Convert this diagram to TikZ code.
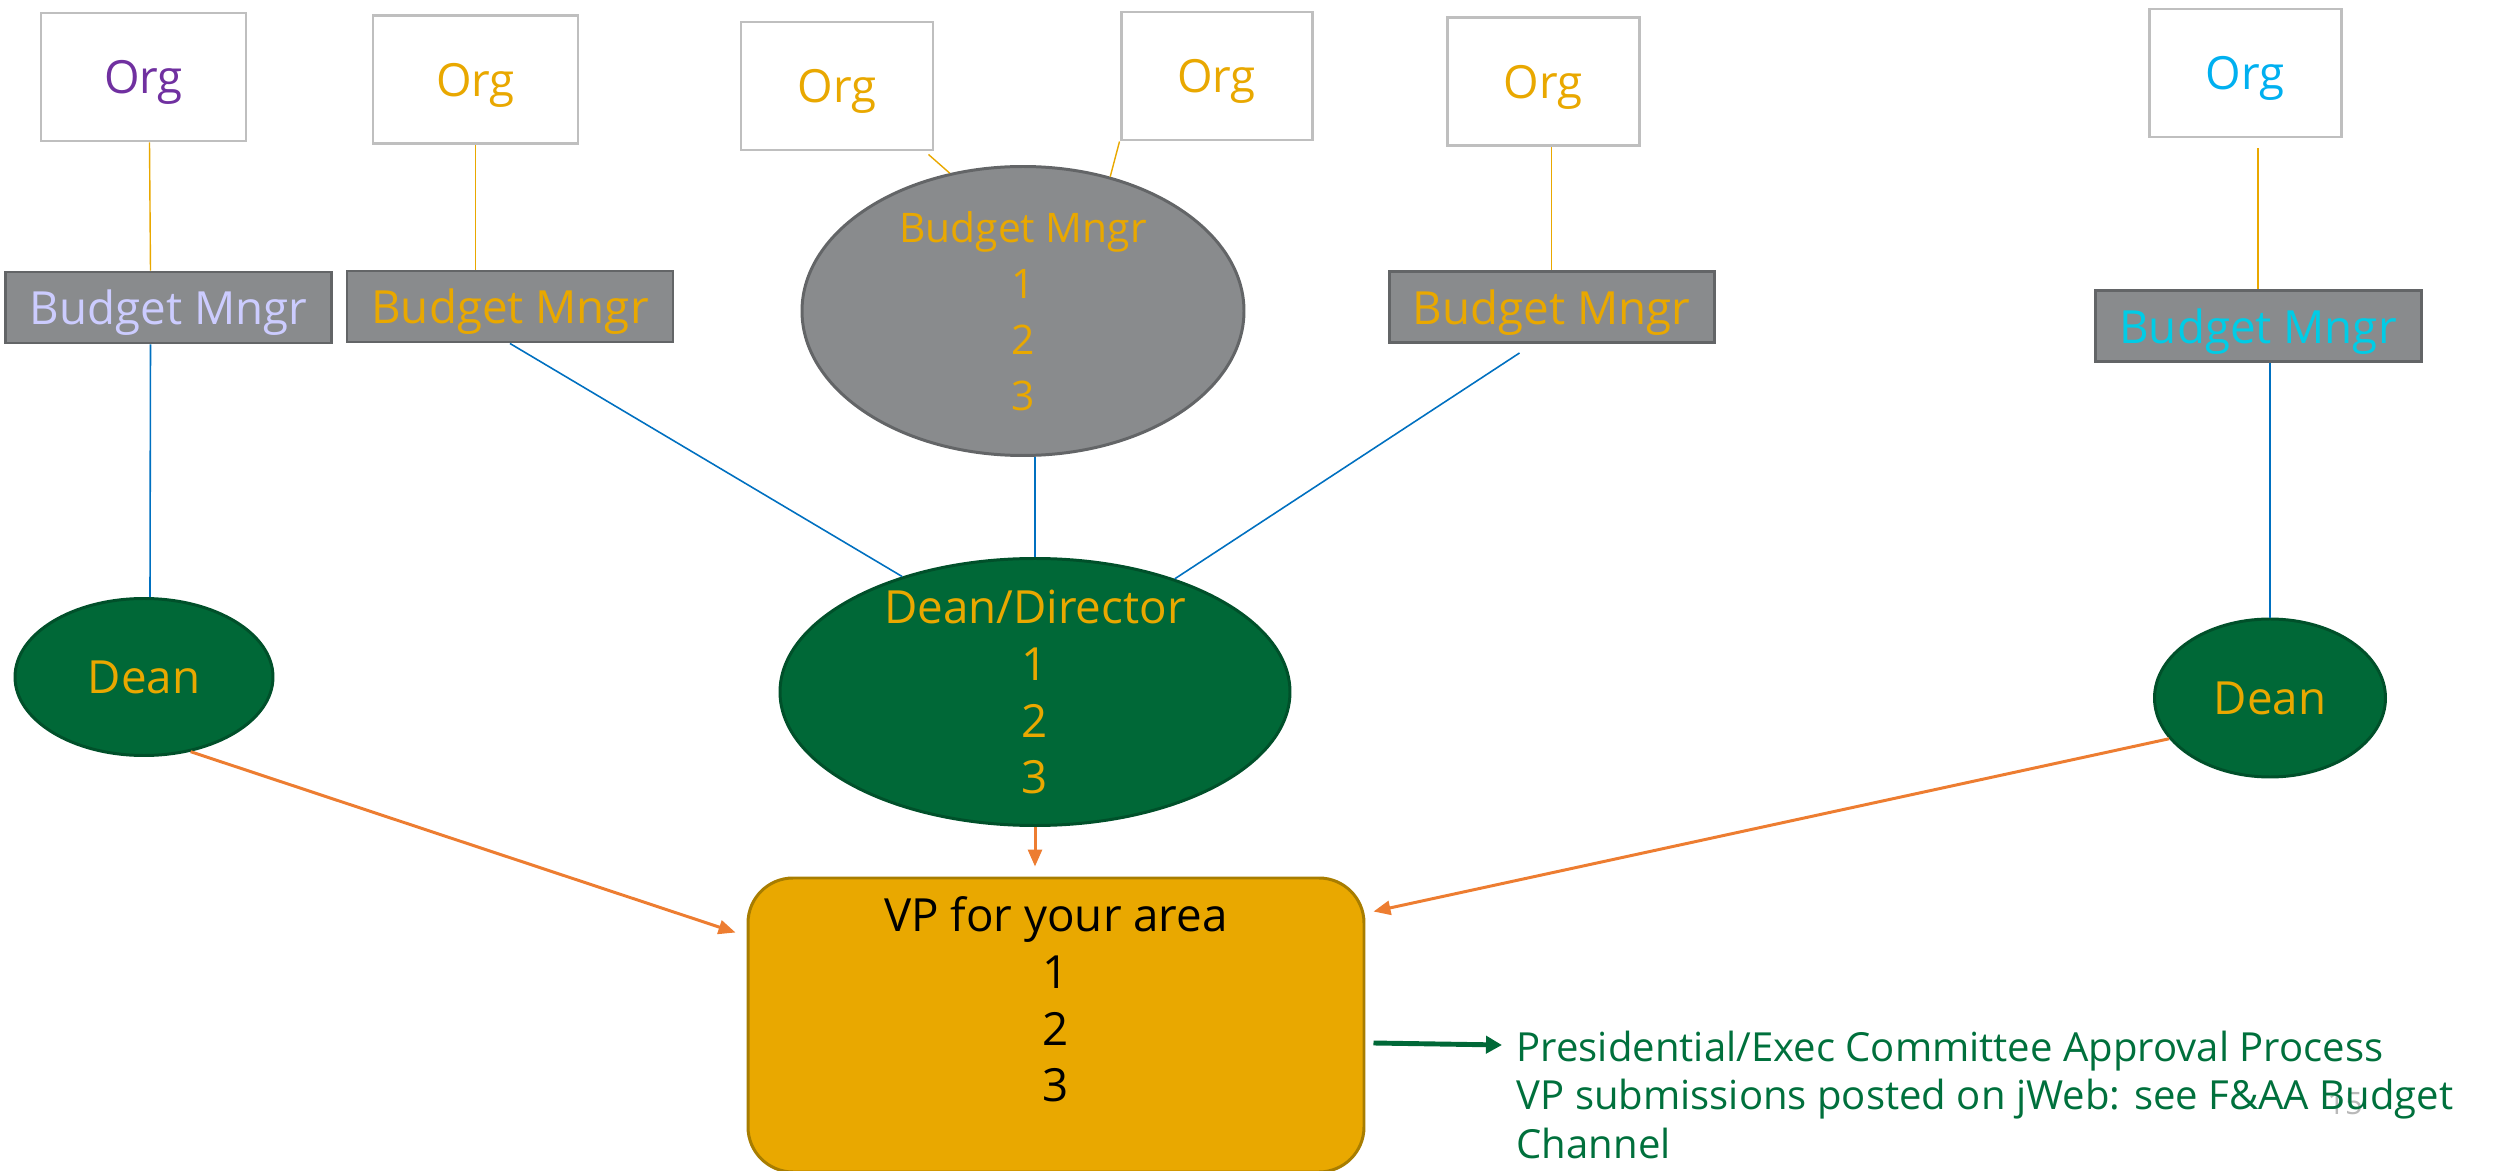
\documentclass[tikz,border=0pt]{standalone}
\usepackage{fontspec}
\setmainfont{Open Sans}
\usetikzlibrary{shapes.geometric,arrows.meta,calc}

\definecolor{orgline}{RGB}{191,191,191}
\definecolor{gold}{RGB}{233,168,0}
\definecolor{golddark}{RGB}{168,125,0}
\definecolor{mgrgray}{RGB}{137,139,141}
\definecolor{mgrdark}{RGB}{99,101,103}
\definecolor{deangreen}{RGB}{0,104,55}
\definecolor{deandark}{RGB}{0,80,42}
\definecolor{linkblue}{RGB}{0,112,192}
\definecolor{arroworange}{RGB}{237,125,49}
\definecolor{orgpurple}{RGB}{112,48,160}
\definecolor{lavender}{RGB}{204,204,255}
\definecolor{orgcyan}{RGB}{0,176,240}
\definecolor{mgrcyan}{RGB}{0,204,230}
\definecolor{notegreen}{RGB}{0,112,60}

\begin{document}
\begin{tikzpicture}[
  x = 0.1mm, y = -0.1mm,
  big font/.style = {font = \fontsize{13}{16.2}\selectfont},
  org box/.style = {draw = orgline, line width = 0.85pt, fill = white, minimum height = 12.8mm,
                    inner sep = 0pt, text depth = 0pt, big font, text = gold},
  mngr box/.style = {draw = mgrdark, line width = 0.85pt, fill = mgrgray, minimum width = 32.6mm,
                     minimum height = 7.1mm, inner sep = 0pt, text depth = 0pt, big font, text = gold},
  mngr ellipse/.style = {ellipse, draw = mgrdark, line width = 0.85pt, fill = mgrgray,
                         minimum width = 44.2mm, minimum height = 28.9mm, inner sep = 0pt},
  dean/.style = {ellipse, draw = deandark, line width = 0.85pt, fill = deangreen, inner sep = 0pt,
                 big font, text = gold},
  inner text/.style = {align = center, inner sep = 0pt, big font, text = gold},
  vp box/.style = {draw = golddark, line width = 0.85pt, fill = gold, rounded corners = 4.5mm,
                   minimum width = 61.6mm, minimum height = 29.4mm, inner sep = 0pt},
  note/.style = {align = left, inner sep = 0pt, text = notegreen, font = \fontsize{11.4}{13.8}\selectfont},
  org link/.style = {draw = gold, line width = 0.4pt},
  mngr link/.style = {draw = linkblue, line width = 0.45pt},
  to vp/.style = {draw = arroworange, line width = 0.85pt, -{Triangle[length = 1.7mm, width = 1.4mm]}},
  to note/.style = {draw = deangreen, line width = 1.4pt, -{Triangle[length = 1.6mm, width = 1.7mm]}},
  ]
  \useasboundingbox (0,0) rectangle (2496,1171);

  \node[org box, minimum width = 20.5mm, text = orgpurple] (org1) at (143.5,77) {Org};
  \node[org box, minimum width = 20.5mm] (org2) at (475.5,79.5) {Org};
  \node[org box, minimum width = 19.2mm] (org3) at (837,86) {Org};
  \node[org box, minimum width = 19.1mm] (org4) at (1216.5,76) {Org};
  \node[org box, minimum width = 19.2mm] (org5) at (1543,81.5) {Org};
  \node[org box, minimum width = 19.2mm, text = orgcyan] (org6) at (2245,73) {Org};

  \node[mngr box, text = lavender] (bm1) at (168.5,307.5) {Budget Mngr};
  \node[mngr box] (bm2) at (510,306.5) {Budget Mngr};
  \node[mngr ellipse, label = {[inner text, font = \fontsize{11.6}{15.9}\selectfont]center:{Budget Mngr\\1\\2\\3}}]
    (bm3) at (1023,311) {};
  \node[mngr box, minimum width = 32.5mm] (bm4) at (1551.5,307) {Budget Mngr};
  \node[mngr box, text = mgrcyan] (bm6) at (2258,326) {Budget Mngr};

  \node[dean, minimum width = 25.8mm, minimum height = 15.7mm] (dean1) at (144,677) {Dean};
  \node[dean, minimum width = 51mm, minimum height = 26.7mm,
        label = {[inner text]center:{Dean/Director\\1\\2\\3}}] (dd) at (1035,692) {};
  \node[dean, minimum width = 23.1mm, minimum height = 15.8mm] (dean6) at (2270,698) {Dean};

  \node[vp box, label = {[inner text, text = black, anchor = north, yshift = -1.9mm]north:{VP for your area\\1\\2\\3}}]
    (vp) at (1056,1025) {};

  \node[text = gray!55, font = \fontsize{8.8}{10}\selectfont] (slide) at (2345,1104) {15};
  \node[note, anchor = north west] (info) at (1516,1030)
    {Presidential/Exec Committee Approval Process\\VP submissions posted on jWeb: see F\&AA Budget\\Channel};

  \draw[org link] ($(org1.south)+(6,0)$) -- ($(bm1.north)+(-18,0)$);
  \draw[org link] (org2.south) -- (org2.south |- bm2.north);
  \draw[org link] ($(org3.south east)+(-6,3)$) -- (bm3.118);
  \draw[org link] (org4.south west) -- (bm3.57);
  \draw[org link] (bm4.north |- org5.south) -- (bm4.north);
  \draw[org link] ($(bm6.north |- org6.south)+(0,10)$) -- (bm6.north);

  \draw[mngr link] ($(bm1.south)+(-18,0)$) -- ($(dean1.north)+(6,0)$);
  \draw[mngr link] (bm2.south) -- (dd.139);
  \draw[mngr link] (dd.north |- bm3.south) -- (dd.north);
  \draw[mngr link] ($(bm4.south)+(-32,9)$) -- (dd.39);
  \draw[mngr link] (dean6.north |- bm6.south) -- (dean6.north);

  \draw[to vp] (dean1.-58) -- ($(vp.north west)+(-11,56)$);
  \draw[to vp] (dd.south) -- ($(dd.south |- vp.north)+(0,-10)$);
  \draw[to vp] (dean6.202) -- ($(vp.north east)+(8,35)$);

  \draw[to note] ($(vp.east)+(8,18)$) -- ($(info.north west)+(-14,15)$);
\end{tikzpicture}
\end{document}
